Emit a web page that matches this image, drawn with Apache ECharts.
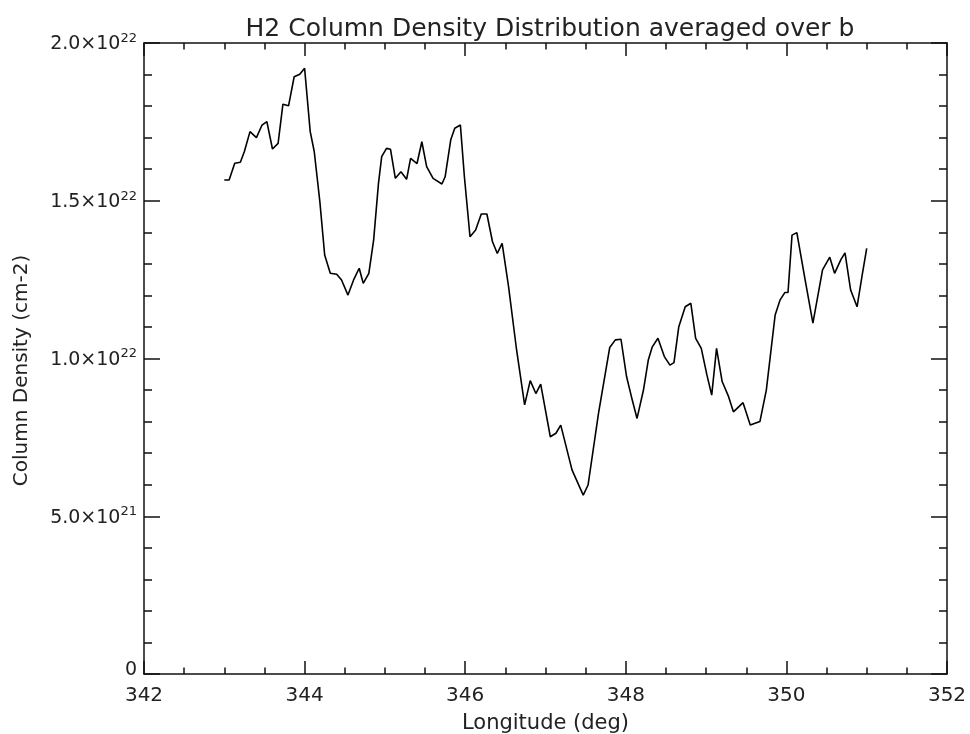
<!DOCTYPE html>
<html>
<head>
<meta charset="utf-8">
<title>H2 Column Density Distribution averaged over b</title>
<script src="https://cdn.jsdelivr.net/npm/echarts@6/dist/echarts.min.js"></script>
<style>
  html, body { margin: 0; padding: 0; background: #fff; }
  #chart { width: 970px; height: 734px; }
</style>
</head>
<body>
<div id="chart"></div>
<script>
// Galactic longitude samples (deg)
const longitude = [
  343.00, 343.06, 343.13, 343.20, 343.25, 343.32, 343.40, 343.47, 343.53, 343.60,
  343.67, 343.73, 343.80, 343.87, 343.94, 344.00, 344.07, 344.12, 344.19, 344.25,
  344.32, 344.40, 344.46, 344.54, 344.61, 344.68, 344.73, 344.80, 344.86, 344.92,
  344.96, 345.02, 345.07, 345.13, 345.20, 345.27, 345.32, 345.40, 345.46, 345.52,
  345.60, 345.71, 345.75, 345.82, 345.87, 345.94, 345.99, 346.06, 346.13, 346.20,
  346.27, 346.34, 346.40, 346.46, 346.54, 346.64, 346.74, 346.81, 346.88, 346.94,
  347.06, 347.13, 347.19, 347.33, 347.47, 347.53, 347.66, 347.80, 347.87, 347.94,
  348.01, 348.07, 348.14, 348.22, 348.28, 348.33, 348.40, 348.48, 348.55, 348.60,
  348.66, 348.74, 348.81, 348.87, 348.94, 349.01, 349.07, 349.13, 349.20, 349.28,
  349.34, 349.46, 349.55, 349.67, 349.75, 349.86, 349.92, 349.98, 350.02, 350.07,
  350.13, 350.23, 350.33, 350.45, 350.54, 350.60, 350.68, 350.73, 350.80, 350.88,
  350.94, 351.00
];

// H2 column density averaged over b (cm^-2)
const density = [
  15.66e21, 15.66e21, 16.19e21, 16.22e21, 16.56e21, 17.19e21, 17.00e21, 17.40e21, 17.51e21, 16.64e21,
  16.82e21, 18.06e21, 18.01e21, 18.93e21, 19.01e21, 19.20e21, 17.19e21, 16.56e21, 14.97e21, 13.28e21,
  12.70e21, 12.67e21, 12.49e21, 12.01e21, 12.49e21, 12.86e21, 12.38e21, 12.70e21, 13.76e21, 15.55e21,
  16.40e21, 16.66e21, 16.63e21, 15.71e21, 15.92e21, 15.68e21, 16.34e21, 16.18e21, 16.87e21, 16.08e21,
  15.71e21, 15.53e21, 15.76e21, 16.93e21, 17.30e21, 17.40e21, 15.76e21, 13.86e21, 14.07e21, 14.58e21,
  14.58e21, 13.70e21, 13.33e21, 13.65e21, 12.28e21, 10.27e21, 8.53e21, 9.30e21, 8.89e21, 9.19e21,
  7.52e21, 7.63e21, 7.89e21, 6.47e21, 5.67e21, 5.99e21, 8.26e21, 10.35e21, 10.59e21, 10.61e21,
  9.42e21, 8.79e21, 8.10e21, 9.00e21, 9.95e21, 10.37e21, 10.64e21, 10.06e21, 9.79e21, 9.87e21,
  11.01e21, 11.64e21, 11.75e21, 10.64e21, 10.32e21, 9.48e21, 8.84e21, 10.32e21, 9.27e21, 8.79e21,
  8.31e21, 8.60e21, 7.89e21, 8.00e21, 9.00e21, 11.38e21, 11.85e21, 12.09e21, 12.09e21, 13.91e21,
  13.99e21, 12.54e21, 11.12e21, 12.81e21, 13.21e21, 12.70e21, 13.14e21, 13.35e21, 12.17e21, 11.64e21,
  12.59e21, 13.49e21
];

// Axis ranges and tick steps
const xRange = [342, 352];
const xStep = 2;
const yRange = [0, 2.0e22];
const yStep = 5.0e21;

const titleText = 'H2 Column Density Distribution averaged over b';
const xName = 'Longitude (deg)';
const yName = 'Column Density (cm-2)';

const FONT = 'DejaVu Sans';
const INK = '#111';
const TEXT = '#222';

// Scientific tick label: mantissa×10 with a raised exponent
function sciLabel(v) {
  if (v === 0) return '{z|0}';
  const e = Math.floor(Math.log10(v) + 1e-9);
  const m = v / Math.pow(10, e);
  return '{m|' + m.toFixed(1) + '×10}{s|' + e + '}';
}

const boxAxisLine = { show: true, onZero: false, lineStyle: { color: INK, width: 1.5 } };

function xAxisDef(pos, withLabels) {
  return {
    type: 'value', position: pos, min: xRange[0], max: xRange[1], interval: xStep,
    axisLine: boxAxisLine,
    axisTick: { show: true, inside: true, length: 13, lineStyle: { color: INK, width: 1.5 } },
    minorTick: { show: true, splitNumber: 4, length: 6.5, lineStyle: { color: INK, width: 1.5 } },
    splitLine: { show: false },
    axisLabel: withLabels ? {
      show: true, margin: 15, color: TEXT, fontFamily: FONT, fontSize: 20, lineHeight: 14
    } : { show: false },
    name: withLabels ? xName : '',
    nameLocation: 'middle', nameGap: 39,
    nameTextStyle: { color: TEXT, fontFamily: FONT, fontSize: 21 }
  };
}

function yAxisDef(pos, withLabels) {
  return {
    type: 'value', position: pos, min: yRange[0], max: yRange[1], interval: yStep,
    axisLine: boxAxisLine,
    axisTick: { show: true, inside: true, length: 16, lineStyle: { color: INK, width: 1.5 } },
    minorTick: { show: true, splitNumber: 5, length: 8, lineStyle: { color: INK, width: 1.5 } },
    splitLine: { show: false },
    axisLabel: withLabels ? {
      show: true, margin: 7, color: TEXT, fontFamily: FONT,
      formatter: sciLabel,
      rich: {
        m: { fontFamily: FONT, fontSize: 19, color: TEXT, lineHeight: 22, verticalAlign: 'bottom' },
        s: { fontFamily: FONT, fontSize: 13, color: TEXT, lineHeight: 13, verticalAlign: 'top', padding: [0, 0, 11, 0] },
        z: { fontFamily: FONT, fontSize: 19, color: TEXT, padding: [0, 0, 8, 0] }
      }
    } : { show: false },
    name: withLabels ? yName : '',
    nameLocation: 'middle', nameGap: 112, nameRotate: 90,
    nameTextStyle: { color: TEXT, fontFamily: FONT, fontSize: 20, padding: [0, 24, 0, 0] }
  };
}

const chart = echarts.init(document.getElementById('chart'), null, { renderer: 'canvas' });

chart.setOption({
  animation: false,
  backgroundColor: '#fff',
  title: {
    text: titleText, left: 545, top: 12, textAlign: 'center',
    textStyle: { color: TEXT, fontFamily: FONT, fontSize: 25, fontWeight: 'normal' }
  },
  grid: { left: 144, right: 23, top: 43, bottom: 60, containLabel: false, outerBoundsMode: 'none' },
  xAxis: [xAxisDef('bottom', true), xAxisDef('top', false)],
  yAxis: [yAxisDef('left', true), yAxisDef('right', false)],
  series: [{
    type: 'line',
    xAxisIndex: 0, yAxisIndex: 0,
    data: longitude.map((lon, i) => [lon, density[i]]),
    showSymbol: false,
    lineStyle: { color: '#000', width: 1.6 },
    z: 3
  }]
});
</script>
</body>
</html>
